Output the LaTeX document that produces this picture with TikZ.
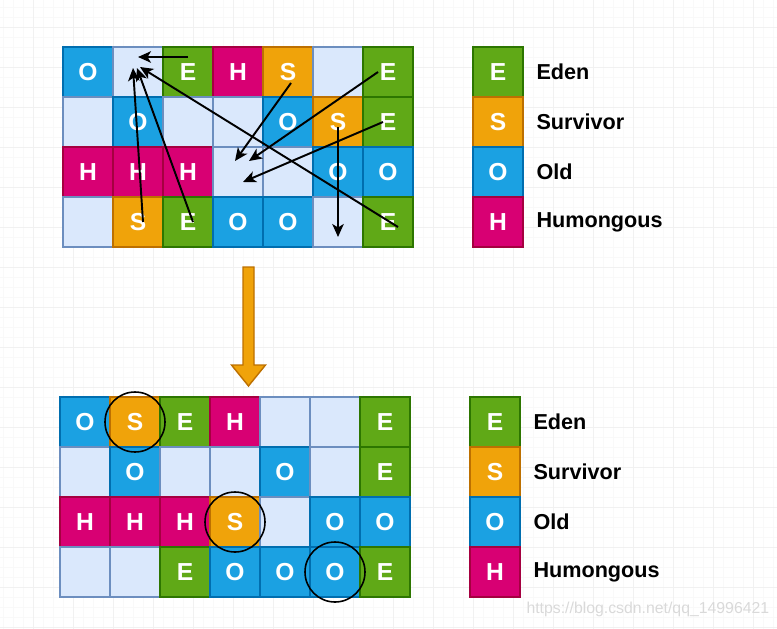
\documentclass[tikz,border=0pt]{standalone}
\usepackage{fontspec}
\setmainfont{Liberation Sans}
\usetikzlibrary{arrows.meta,positioning}

\definecolor{eden}{HTML}{60A917}
\definecolor{edenBorde}{HTML}{2D7600}
\definecolor{surv}{HTML}{F0A30A}
\definecolor{survBorde}{HTML}{BD7000}
\definecolor{old}{HTML}{1BA1E2}
\definecolor{oldBorde}{HTML}{006EAF}
\definecolor{humo}{HTML}{D80073}
\definecolor{humoBorde}{HTML}{A50040}
\definecolor{libre}{HTML}{DAE8FC}
\definecolor{libreBorde}{HTML}{6C8EBF}

\begin{document}
\begin{tikzpicture}[line width=0.6pt,>={Stealth[length=2.6mm,width=2.3mm,inset=0.7mm]},
  celda/.style={minimum size=1cm,inner sep=0pt,outer sep=0pt,text=white,
    font=\fontsize{14}{14}\selectfont\bfseries},
  tipoE/.style={fill=eden,draw=edenBorde},
  tipoS/.style={fill=surv,draw=survBorde},
  tipoO/.style={fill=old,draw=oldBorde},
  tipoH/.style={fill=humo,draw=humoBorde},
  tipoV/.style={fill=libre,draw=libreBorde},
  etiqueta/.style={inner sep=0pt,font=\fontsize{12.3}{12.3}\selectfont\bfseries},
  flecha/.style={->,line width=1.1pt},
  marca/.style={circle,draw,line width=0.9pt,minimum size=1.2cm}]
  \useasboundingbox (0,0) rectangle (15.54,-12.56);
  % rejilla de fondo
  \begin{scope}
    \clip (0,0) rectangle (15.54,-12.56);
    \draw[gray!5,line width=0.5pt,xshift=0.06cm,yshift=-0.14cm] (-0.4,-13) grid[step=0.2] (15.8,0.4);
    \draw[gray!11,line width=0.5pt,xshift=0.66cm,yshift=-0.54cm] (-0.8,-12.8) grid[step=0.8] (15.2,0.8);
  \end{scope}
  % heap antes
  \foreach \fila [count=\fil from 0] in {{O,V,E,H,S,V,E},{V,O,V,V,O,S,E},{H,H,H,V,V,O,O},{V,S,E,O,O,V,E}}
    \foreach \tipo [count=\col from 0] in \fila
      \node[celda,tipo\tipo] (ant\fil\col) at (1.76+\col,-1.44-\fil) {\if\tipo V\else\tipo\fi};
  % heap despues
  \foreach \fila [count=\fil from 0] in {{O,S,E,H,V,V,E},{V,O,V,V,O,V,E},{H,H,H,S,V,O,O},{V,V,E,O,O,O,E}}
    \foreach \tipo [count=\col from 0] in \fila
      \node[celda,tipo\tipo] (des\fil\col) at (1.7+\col,-8.44-\fil) {\if\tipo V\else\tipo\fi};
  % leyendas
  \foreach \tipo/\nombre [count=\fil from 0] in {E/Eden,S/Survivor,O/Old,H/Humongous}{
    \node[celda,tipo\tipo] (leyA\tipo) at (9.96,-1.44-\fil) {\tipo};
    \node[etiqueta,right=0.26cm of leyA\tipo] (txtA\tipo) {\nombre};
    \node[celda,tipo\tipo] (leyB\tipo) at (9.9,-8.44-\fil) {\tipo};
    \node[etiqueta,right=0.26cm of leyB\tipo] (txtB\tipo) {\nombre};
  }
  % movimientos de regiones
  \draw[flecha] ([yshift=0.3cm]ant02.center) -- ([yshift=0.3cm]ant01.center);
  \draw[flecha] ([xshift=0.1cm]ant31.center) -- ([shift={(-0.1,0.08)}]ant01.center);
  \draw[flecha] ([xshift=0.1cm]ant32.center) -- ([shift={(-0.02,0.08)}]ant01.center);
  \draw[flecha] ([shift={(0.2,-0.1)}]ant36.center) -- ([shift={(0.04,0.1)}]ant01.center);
  \draw[flecha] ([shift={(0.06,-0.22)}]ant04.center) -- ([shift={(-0.06,0.22)}]ant23.center);
  \draw[flecha] ([xshift=-0.2cm]ant06.center) -- ([shift={(0.22,0.22)}]ant23.center);
  \draw[flecha] ([xshift=-0.1cm]ant16.center) -- ([shift={(0.1,-0.2)}]ant23.center);
  \draw[flecha] ([yshift=-0.1cm]ant15.center) -- ([yshift=-0.3cm]ant35.center);
  % flecha grande
  \filldraw[fill=surv,draw=survBorde,line width=0.8pt] (4.86,-5.34) -- (5.08,-5.34) -- (5.08,-7.3)
    -- (5.31,-7.3) -- (4.97,-7.72) -- (4.63,-7.3) -- (4.86,-7.3) -- cycle;
  % regiones marcadas
  \node[marca] (marcaA) at (des01) {};
  \node[marca] (marcaB) at (des23) {};
  \node[marca] (marcaC) at (des35) {};
  \node[anchor=west,inner sep=0pt,text=gray!30,font=\fontsize{9}{9}\selectfont] (marcaAgua)
    at (10.52,-12.18) {https://blog.csdn.net/qq\_14996421};
\end{tikzpicture}
\end{document}
